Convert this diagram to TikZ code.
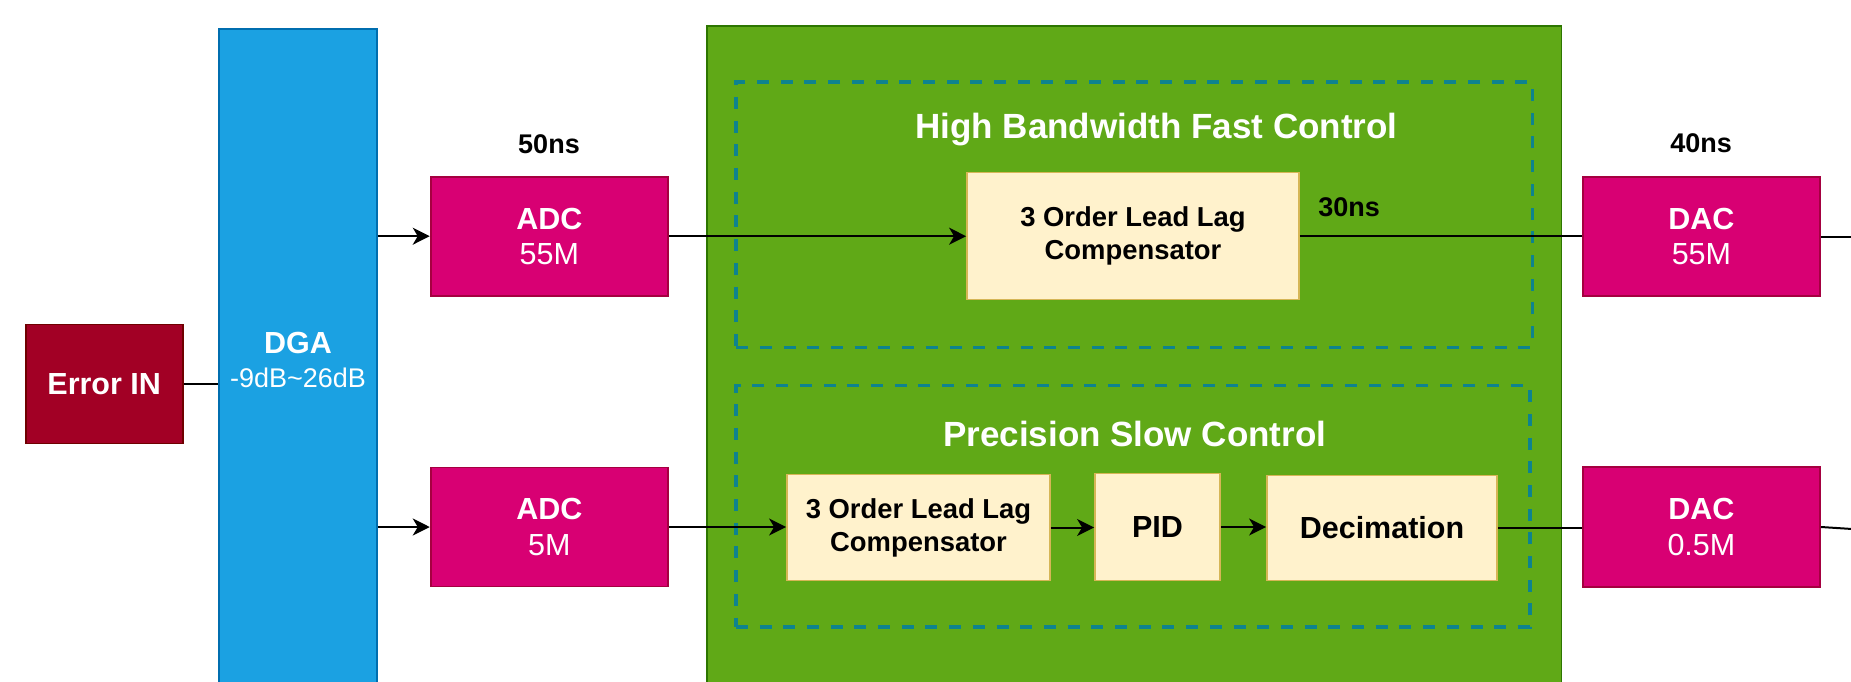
\documentclass[tikz,border=0pt]{standalone}
\usepackage{fontspec}
\setmainfont{Liberation Sans}
\usetikzlibrary{arrows.meta}
\definecolor{errfill}{HTML}{A20025}
\definecolor{errdraw}{HTML}{6F0000}
\definecolor{dgafill}{HTML}{1BA1E2}
\definecolor{dgadraw}{HTML}{006EAF}
\definecolor{adcfill}{HTML}{D80073}
\definecolor{adcdraw}{HTML}{A50040}
\definecolor{grnfill}{HTML}{60A917}
\definecolor{grndraw}{HTML}{2D7600}
\definecolor{yfill}{HTML}{FFF2CC}
\definecolor{ydraw}{HTML}{D6B656}
\definecolor{dashcol}{HTML}{0E838E}
\tikzset{
  box/.style={draw, line width=1.8pt, inner sep=0pt, align=center},
  errbox/.style={box, fill=errfill, draw=errdraw, text=white, font=\fontsize{30.5}{35}\selectfont\bfseries},
  dgabox/.style={box, fill=dgafill, draw=dgadraw, text=white, font=\fontsize{30.5}{34.4}\selectfont},
  convbox/.style={box, fill=adcfill, draw=adcdraw, text=white, font=\fontsize{30.5}{35.2}\selectfont},
  grnbox/.style={box, fill=grnfill, draw=grndraw},
  dashbox/.style={draw=dashcol, line width=3.6pt, dash pattern=on 12pt off 11.7pt, inner sep=0pt},
  ybox/.style={box, fill=yfill, draw=ydraw, text=black, font=\fontsize{27.4}{33}\selectfont\bfseries},
  ybigbox/.style={box, fill=yfill, draw=ydraw, text=black, font=\fontsize{30.5}{35}\selectfont\bfseries},
  titlelbl/.style={anchor=base, text=white, font=\fontsize{35}{40}\selectfont\bfseries, inner sep=0pt},
  timelbl/.style={anchor=base, text=black, font=\fontsize{27}{32}\selectfont\bfseries, inner sep=0pt},
  conn/.style={line width=2pt, draw=black},
  arr/.style={conn, -{Stealth[length=17pt,width=17pt,inset=5pt]}},
}
\begin{document}
\begin{tikzpicture}[x=1pt,y=-1pt]
\useasboundingbox (0,0) rectangle (1851,682);
\clip (0,0) rectangle (1851,682);
\fill[white] (0,0) rectangle (1851,682);
% FPGA green area
\node[grnbox, anchor=north west, minimum width=854.5pt, minimum height=700pt] (fpga) at (706,25) {};
\node[dashbox, anchor=north west, minimum width=796.2pt, minimum height=265.3pt] (fast) at (734.4,80.5) {};
\node[dashbox, anchor=north west, minimum width=794pt, minimum height=241.8pt] (slow) at (734,383.6) {};
\node[titlelbl] (fasttitle) at (1156.4,138.5) {High Bandwidth Fast Control};
\node[titlelbl] (slowtitle) at (1134.8,446.1) {Precision Slow Control};
% left blocks
\node[errbox, minimum width=157pt, minimum height=119pt] (err) at (104.2,384) {Error IN};
\node[dgabox, minimum width=158pt, minimum height=662pt] (dga) at (298,360) {\textbf{DGA}\\{\fontsize{27}{34.4}\selectfont -9dB\textasciitilde 26dB}};
\node[convbox, minimum width=237.3pt, minimum height=119pt] (adc1) at (549.3,236.2) {\textbf{ADC}\\55M};
\node[convbox, minimum width=237.3pt, minimum height=119pt] (adc2) at (549.3,527) {\textbf{ADC}\\5M};
\node[timelbl] (t50) at (549,153.2) {50ns};
% inner blocks
\node[ybox, minimum width=332pt, minimum height=127pt] (ll1) at (1133,236) {3 Order Lead Lag\\Compensator};
\node[timelbl] (t30) at (1349,216.2) {30ns};
\node[ybox, minimum width=263pt, minimum height=106pt] (ll2) at (918.5,527.5) {3 Order Lead Lag\\Compensator};
\node[ybigbox, minimum width=125pt, minimum height=107pt] (pid) at (1157.5,527) {PID};
\node[ybigbox, minimum width=230pt, minimum height=105pt] (dec) at (1382,528) {Decimation};
% right blocks
\node[convbox, minimum width=237.3pt, minimum height=118.6pt] (dac1) at (1701.4,236.5) {\textbf{DAC}\\55M};
\node[convbox, minimum width=237.3pt, minimum height=119.3pt] (dac2) at (1701.4,527) {\textbf{DAC}\\0.5M};
\node[timelbl] (t40) at (1701,153) {40ns};
\coordinate (out1) at (1860,236);
\coordinate (out2) at (1860,529.5);
% connectors
\draw[conn] (err.east) -- (err.east -| dga.west);
\draw[arr] (adc1.west -| dga.east) -- (adc1.west);
\draw[arr] (adc2.west -| dga.east) -- (adc2.west);
\draw[arr] (adc1.east) -- (adc1.east -| ll1.west);
\draw[conn] (ll1.east) -- (ll1.east -| dac1.west);
\draw[arr] (adc2.east) -- (adc2.east -| ll2.west);
\draw[arr] (ll2.east) -- (ll2.east -| pid.west);
\draw[arr] (pid.east) -- (pid.east -| dec.west);
\draw[conn] (dec.east) -- (dec.east -| dac2.west);
\draw[conn] (dac1.east) -- (dac1.east -| out1);
\draw[conn] (dac2.east) -- (out2);
\end{tikzpicture}
\end{document}
